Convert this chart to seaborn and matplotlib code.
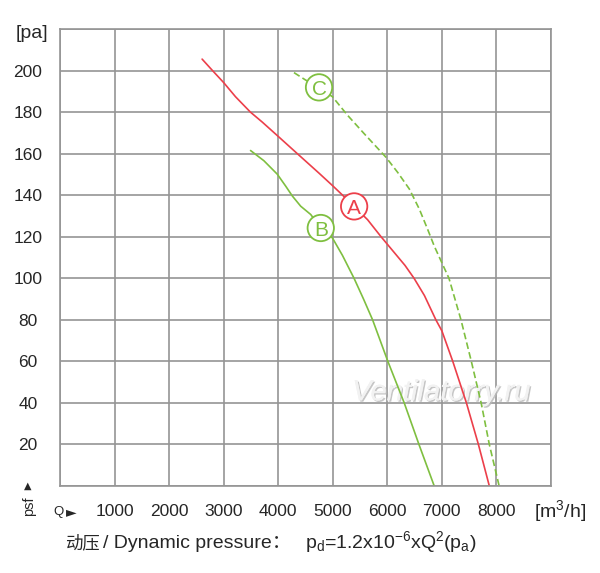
import numpy as np
import pandas as pd
import matplotlib
matplotlib.use('Agg')
import matplotlib.pyplot as plt
import matplotlib.patheffects as pe
import seaborn as sns

# Curve A (red, solid)
q_a = [2605, 2795, 3000, 3217, 3490, 3707, 4000, 4350, 4748, 5000, 5180, 5392,
       5638, 5882, 6324, 6490, 6680, 6890, 7000, 7200, 7450, 7670, 7870]
p_a = [205.5, 200, 194.2, 187.4, 180, 175.2, 168.3, 160, 150.6, 144.5, 140, 134.6,
       128.2, 120.1, 106.2, 100, 91.7, 80, 74.7, 60, 40, 20, 0]

# Curve B (green, solid)
q_b = [3493, 3737, 3983, 4136, 4259, 4412, 4596, 4780, 4994, 5178, 5390, 5564,
       5730, 6010, 6310, 6580, 6860]
p_b = [161.5, 156.6, 150.1, 144.4, 139.6, 134.7, 130.7, 124.2, 119.4, 111, 100, 90,
       80, 60, 40, 20, 0]

# Curve C (green, dashed)
q_c = [4289, 4504, 4748, 4994, 5270, 5576, 5974, 6189, 6403, 6587, 6740, 6862,
       7130, 7350, 7540, 7720, 7870, 8050]
p_c = [199, 195.4, 191.9, 187.4, 178.5, 169.6, 158.3, 151, 143, 133.3, 123.5, 115.4,
       100, 80, 60, 40, 20, 0]

# circled curve names
label_names = ['A', 'B', 'C']
label_q = [5392, 4780, 4748]
label_p = [134.6, 124.2, 191.9]

x_ticks = [0, 1000, 2000, 3000, 4000, 5000, 6000, 7000, 8000, 9000]
x_ticklabels = ['', '1000', '2000', '3000', '4000', '5000', '6000', '7000', '8000', '']
y_ticks = [0, 20, 40, 60, 80, 100, 120, 140, 160, 180, 200, 220]
y_ticklabels = ['', '20', '40', '60', '80', '100', '120', '140', '160', '180', '200', '']

RED = '#ec3f4a'
GREEN = '#7fbf40'
GRID = '#959595'

sns.set_style('white')
plt.rcParams['font.family'] = ['Liberation Sans', 'Noto Sans CJK SC', 'DejaVu Sans']
plt.rcParams['mathtext.fontset'] = 'custom'
plt.rcParams['mathtext.rm'] = 'Liberation Sans'
plt.rcParams['mathtext.it'] = 'Liberation Sans:italic'

fig = plt.figure(figsize=(6, 5.73), dpi=100)
ax = fig.add_axes([0.1, 0.1518, 0.8183, 0.7976])

sns.lineplot(x=q_a, y=p_a, ax=ax, color=RED, lw=1.2, sort=False, estimator=None)
sns.lineplot(x=q_b, y=p_b, ax=ax, color=GREEN, lw=1.2, sort=False, estimator=None)
sns.lineplot(x=q_c, y=p_c, ax=ax, color=GREEN, lw=1.2, sort=False, estimator=None,
             linestyle=(0, (4, 2)))

label_colors = [RED, GREEN, GREEN]
ax.scatter(label_q, label_p, s=360, facecolor='white', edgecolor=label_colors,
           linewidth=1.3, zorder=5)
for name, q, p, c in zip(label_names, label_q, label_p, label_colors):
    ax.text(q, p, name, color=c, fontsize=15, ha='center', va='center_baseline', zorder=6)

ax.set_xlim(0, 9000)
ax.set_ylim(0, 220)
ax.set_xticks(x_ticks)
ax.set_xticklabels(x_ticklabels, fontsize=12.5)
ax.set_yticks(y_ticks)
ax.set_yticklabels(y_ticklabels, fontsize=12.5)
for lab in ax.get_yticklabels():
    lab.set_horizontalalignment('center')
ax.tick_params(axis='y', length=0, pad=23)
ax.tick_params(axis='x', length=0, pad=13)
ax.grid(True, color=GRID, lw=1.2)
for s in ax.spines.values():
    s.set_color(GRID)
    s.set_linewidth(1.2)
ax.set_xlabel('')
ax.set_ylabel('')

# axis annotations
fig.text(32 / 600, 1 - 33 / 573, '[pa]', fontsize=14, ha='center', va='center')
fig.text(560 / 600, 1 - 511 / 573, '[m$^3$/h]', fontsize=14, ha='center', va='center')
fig.text(29 / 600, 1 - 506 / 573, 'psf', fontsize=10.5, rotation=90, ha='center', va='center')
fig.text(28 / 600, 1 - 486 / 573, '▲', fontsize=7, ha='center', va='center',
         family='DejaVu Sans')
fig.text(53 / 600, 1 - 512 / 573, 'Q', fontsize=9.5, ha='left', va='center')
fig.text(66 / 600, 1 - 512 / 573, '►', fontsize=10, ha='left', va='center',
         family='DejaVu Sans')

# caption
fig.text(65 / 600, 1 - 548 / 573, '动压', fontsize=12.5, ha='left', va='baseline')
fig.text(103 / 600, 1 - 548 / 573, '/ Dynamic pressure：', fontsize=14,
         ha='left', va='baseline')
fig.text(305 / 600, 1 - 548 / 573,
         r'p$_\mathrm{d}$=1.2x10$^\mathrm{-6}$xQ$^\mathrm{2}$(p$_\mathrm{a}$)',
         fontsize=14, ha='left', va='baseline')

# watermark
ax.text(0.777, 0.205, 'Ventilatorry.ru', transform=ax.transAxes, fontsize=21,
        style='italic', color='#f2f2f2', ha='center', va='center', zorder=1,
        path_effects=[pe.withSimplePatchShadow(offset=(1, -1), shadow_rgbFace='#b8b8b8',
                                               alpha=0.8), pe.Normal()])

fig.savefig('out.png', dpi=100)
